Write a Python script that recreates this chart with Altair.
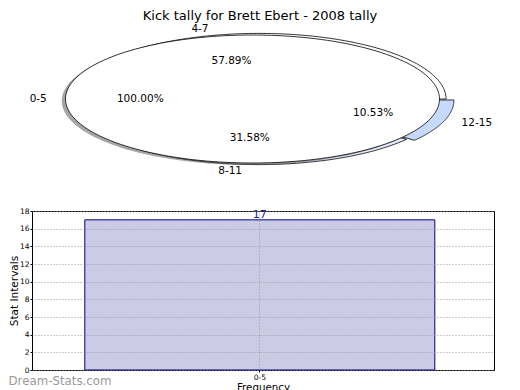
import altair as alt
import numpy as np
import pandas as pd

# ---------------- data ----------------
chart_title = "Kick tally for Brett Ebert - 2008 tally"
ring_labels = ["4-7", "8-11", "12-15"]
ring_counts = [11, 6, 2]
ring_colors = ["#ffffff", "#e4ecfc", "#c6d9fe"]
ring_explode = [0.0, 0.0, 0.045]
full_labels = ["0-5"]
full_counts = [17]
bar_categories = ["0-5"]
bar_values = [17]
y_ticks = [0, 2, 4, 6, 8, 10, 12, 14, 16, 18]
watermark = "Dream-Stats.com"

# ---------------- geometry / style ----------------
FONT = "DejaVu Sans"
Y_EXTENT, Y_TITLE_PAD, Y_TITLE_SIZE = 12, 1, 10.5
PIE_X0 = 8 + Y_EXTENT + Y_TITLE_PAD + Y_TITLE_SIZE   # page x of the pie panel origin
PIE_Y0 = 8
PIE_W, PIE_H = 462, 190
RX_PX, RY_PX = 187.0, 64.0
CX_PAGE, CY_PAGE = 252.0, 99.0
x_min = -(CX_PAGE - PIE_X0) / RX_PX
x_max = x_min + PIE_W / RX_PX
y_max = (CY_PAGE - PIE_Y0) / RY_PX
y_min = y_max - PIE_H / RY_PX

RING_CX, RING_CY, RING_RY = 0.035, 0.0, 1.025
SHADOW_DX, SHADOW_DY = -0.02, -0.03


def wedge(theta1, theta2, cx, cy, rx, ry, closed_apex=True, n=180):
    t = np.radians(np.linspace(theta1, theta2, n))
    xs = list(cx + rx * np.cos(t))
    ys = list(cy + ry * np.sin(t))
    if closed_apex:
        xs = [cx] + xs + [cx]
        ys = [cy] + ys + [cy]
    return xs, ys


# ring pie wedges
ring_rows, lab_rows = [], []
total = sum(ring_counts)
start = 0.0
for lab, cnt, ex in zip(ring_labels, ring_counts, ring_explode):
    span = 360.0 * cnt / total
    mid = np.radians(start + span / 2)
    cx = RING_CX + ex * np.cos(mid)
    cy = RING_CY + ex * RING_RY * np.sin(mid)
    xs, ys = wedge(start, start + span, cx, cy, 1.0, RING_RY)
    for i, (a, b) in enumerate(zip(xs, ys)):
        ring_rows.append({"slice": lab, "o": i, "x": a, "y": b})
    lab_rows.append({"t": lab, "x": cx + 1.1 * np.cos(mid), "y": cy + 1.1 * RING_RY * np.sin(mid),
                     "side": "L" if np.cos(mid) > 0 else "R"})
    lab_rows.append({"t": f"{100 * cnt / total:.2f}%", "x": cx + 0.6 * np.cos(mid),
                     "y": cy + 0.6 * RING_RY * np.sin(mid), "side": "C"})
    start += span
ring_df = pd.DataFrame(ring_rows)

# full pie (0-5) + its shadow
full_rows, shadow_rows = [], []
ftotal = sum(full_counts)
start = 0.0
for lab, cnt in zip(full_labels, full_counts):
    span = 360.0 * cnt / ftotal
    mid = np.radians(start + span / 2)
    xs, ys = wedge(start, start + span, 0.0, 0.0, 1.0, 1.0, closed_apex=span < 360)
    for i, (a, b) in enumerate(zip(xs, ys)):
        full_rows.append({"slice": lab, "o": i, "x": a, "y": b})
        shadow_rows.append({"slice": lab, "o": i, "x": a + SHADOW_DX, "y": b + SHADOW_DY})
    lab_rows.append({"t": lab, "x": 1.1 * np.cos(mid), "y": 1.1 * np.sin(mid),
                     "side": "L" if np.cos(mid) > 0 else "R"})
    lab_rows.append({"t": f"{100 * cnt / ftotal:.2f}%", "x": 0.6 * np.cos(mid),
                     "y": 0.6 * np.sin(mid), "side": "C"})
    start += span
full_df = pd.DataFrame(full_rows)
shadow_df = pd.DataFrame(shadow_rows)
lab_df = pd.DataFrame(lab_rows)

xs = alt.Scale(domain=[x_min, x_max], nice=False, zero=False)
ys = alt.Scale(domain=[y_min, y_max], nice=False, zero=False)
X = alt.X("x:Q", scale=xs, axis=None)
Y = alt.Y("y:Q", scale=ys, axis=None)

ring = alt.Chart(ring_df).mark_line(stroke="black", strokeWidth=0.8, filled=True).encode(
    x=X, y=Y, order="o:Q", detail="slice:N",
    fill=alt.Fill("slice:N", scale=alt.Scale(domain=ring_labels, range=ring_colors), legend=None),
)
shadow = alt.Chart(shadow_df).mark_line(fill="#4d4d4d", fillOpacity=0.5, strokeOpacity=0, filled=True).encode(
    x=X, y=Y, order="o:Q", detail="slice:N")
full = alt.Chart(full_df).mark_line(stroke="black", strokeWidth=0.8, fill="#ffffff", filled=True).encode(
    x=X, y=Y, order="o:Q", detail="slice:N")

txt_kw = dict(font=FONT, fontSize=10.5, color="black", baseline="middle")
lab_left = alt.Chart(lab_df).transform_filter("datum.side == 'L'").mark_text(align="left", **txt_kw).encode(x=X, y=Y, text="t:N")
lab_right = alt.Chart(lab_df).transform_filter("datum.side == 'R'").mark_text(align="right", **txt_kw).encode(x=X, y=Y, text="t:N")
lab_center = alt.Chart(lab_df).transform_filter("datum.side == 'C'").mark_text(align="center", **txt_kw).encode(x=X, y=Y, text="t:N")
title_txt = alt.Chart(lab_df.head(1)).mark_text(
    text=chart_title, font=FONT, fontSize=13, align="center", baseline="top", color="black"
).encode(x=alt.value(259.5 - PIE_X0), y=alt.value(1.5))

pie = alt.layer(ring, shadow, full, lab_left, lab_right, lab_center, title_txt).properties(
    width=PIE_W, height=PIE_H, view=alt.ViewBackground(strokeWidth=0))

# ---------------- bar chart ----------------
BAR_W, BAR_H = int(round(493 - PIE_X0)), 159
BAR_PX_L, BAR_PX_R = 84.3, 434.3          # reference bar edges on the page
gap_total = BAR_W - (BAR_PX_R - BAR_PX_L)
pad_outer = gap_total / (2 * (BAR_PX_R - BAR_PX_L))
band_align = (BAR_PX_L - PIE_X0) / gap_total
bar_df = pd.DataFrame({"cat": bar_categories, "val": bar_values})
bx = alt.X("cat:N", sort=bar_categories,
           scale=alt.Scale(paddingInner=0, paddingOuter=pad_outer, align=band_align),
           axis=alt.Axis(title="Frequency", labelAngle=0, grid=True, gridDash=[1, 2], gridColor="#999999",
                         labelFontSize=7.5, titleFontSize=10.3, titlePadding=1, tickSize=2, labelPadding=1.5,
                         domain=False, zindex=1, labelFont=FONT, titleFont=FONT,
                         labelColor="black", titleColor="black", tickColor="black", titleFontWeight="normal"))
by = alt.Y("val:Q", scale=alt.Scale(domain=[0, 18], nice=False),
           axis=alt.Axis(title="Stat Intervals", values=y_ticks, grid=True, gridDash=[1, 2], gridColor="#999999",
                         labelFontSize=7.5, titleFontSize=Y_TITLE_SIZE, titlePadding=Y_TITLE_PAD, tickSize=2,
                         labelPadding=1, minExtent=Y_EXTENT, maxExtent=Y_EXTENT, labelOverlap=False,
                         domain=False, zindex=1, labelFont=FONT, titleFont=FONT,
                         labelColor="black", titleColor="black", tickColor="black", titleFontWeight="normal"))
bars = alt.Chart(bar_df).mark_bar(fill="#cbcbe6", stroke="#000080", strokeWidth=1).encode(x=bx, y=by)
bar_txt = alt.Chart(bar_df).mark_text(baseline="bottom", dy=0, font=FONT, fontSize=11, color="#1a1a9a").encode(
    x=bx, y=by, text="val:Q")
wm = alt.Chart(bar_df).mark_text(text=watermark, font=FONT, fontSize=11.8, color="#999999",
                                  align="left", baseline="middle").encode(
    x=alt.value(8 - PIE_X0), y=alt.value(BAR_H + 11))
bar = alt.layer(bars, bar_txt, wm).properties(
    width=BAR_W, height=BAR_H, view=alt.ViewBackground(stroke="black", strokeWidth=1))

chart = alt.vconcat(pie, bar, spacing=8).properties(
    padding=0, autosize=alt.AutoSizeParams(type="pad")).configure_view(strokeWidth=0)

chart.save("out.html", embed_options={"renderer": "svg", "actions": False})
